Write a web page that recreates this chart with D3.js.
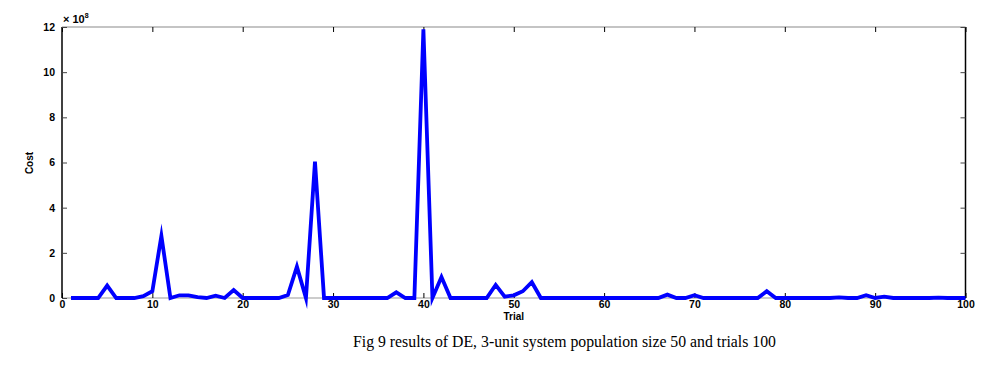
<!DOCTYPE html>
<html><head><meta charset="utf-8">
<script src="https://cdn.jsdelivr.net/npm/d3@7"></script>
<style>body{margin:0;background:#fff;} svg{display:block;}</style>
</head><body>
<svg id="c" width="994" height="367"></svg>
<script>
const trials = d3.range(1, 101);
const cost = [
 0,0,0,0,0.55,0,0,0,0.08,0.3,
 2.75,0,0.12,0.12,0.04,0,0.1,0,0.35,0,
 0,0,0,0,0.13,1.39,0,6.04,0,0,
 0,0,0,0,0,0,0.25,0,0,11.9,
 0,0.93,0,0,0,0,0,0.58,0.06,0.12,
 0.3,0.7,0,0,0,0,0,0,0,0,
 0,0,0,0,0,0,0.15,0,0,0.12,
 0,0,0,0,0,0,0,0.3,0,0,
 0,0,0,0,0,0.03,0,0,0.12,0,
 0.06,0,0,0,0,0,0.02,0,0,0
];
const xTicks = [0,10,20,30,40,50,60,70,80,90,100];
const yTicks = [0,2,4,6,8,10,12];
const title = "Fig 9 results of DE, 3-unit system population size 50 and trials 100";

const svg = d3.select("#c");
const L = 62, R = 965.5, T = 27, B = 298;
const x = d3.scaleLinear().domain([0,100]).range([L,R]);
const y = d3.scaleLinear().domain([0,12]).range([B,T]);
const tickFont = "bold 10.5px 'Liberation Sans', Arial, sans-serif";

// box
svg.append("line").attr("x1",L).attr("x2",R).attr("y1",T).attr("y2",T).attr("stroke","#8a8a8a").attr("stroke-width",1.2);
svg.append("line").attr("x1",L).attr("x2",R).attr("y1",B).attr("y2",B).attr("stroke","#9a9a9a").attr("stroke-width",1.2);
svg.append("line").attr("x1",L).attr("x2",L).attr("y1",T).attr("y2",B).attr("stroke","#000").attr("stroke-width",1.5);
svg.append("line").attr("x1",R).attr("x2",R).attr("y1",T).attr("y2",B).attr("stroke","#000").attr("stroke-width",1.5);

// bottom axis
const gx = svg.append("g").attr("transform",`translate(0,${B})`)
  .call(d3.axisBottom(x).tickValues(xTicks).tickSizeInner(-5).tickSizeOuter(0).tickPadding(3));
gx.select(".domain").remove();
gx.selectAll("text").style("font", tickFont).attr("fill","#000").attr("dy","0.71em");
// top ticks
const gxt = svg.append("g").attr("transform",`translate(0,${T})`)
  .call(d3.axisTop(x).tickValues(xTicks).tickSizeInner(-5).tickSizeOuter(0).tickFormat(""));
gxt.select(".domain").remove();
// left axis
const gy = svg.append("g").attr("transform",`translate(${L},0)`)
  .call(d3.axisLeft(y).tickValues(yTicks).tickSizeInner(-5).tickSizeOuter(0).tickPadding(7));
gy.select(".domain").remove();
gy.selectAll("text").style("font", tickFont).attr("fill","#000");
gy.selectAll("line").attr("stroke","#444");
// right ticks
const gyr = svg.append("g").attr("transform",`translate(${R},0)`)
  .call(d3.axisRight(y).tickValues(yTicks).tickSizeInner(-5).tickSizeOuter(0).tickFormat(""));
gyr.select(".domain").remove();
gyr.selectAll("line").attr("stroke","#444");

// exponent
const ex = svg.append("text").attr("x", L+1).attr("y", T-4).style("font","bold 11px 'Liberation Sans', Arial, sans-serif");
ex.append("tspan").text("× 10");
ex.append("tspan").attr("dy",-5).style("font-size","7px").text("8");

// line
const line = d3.line().x((d,i)=>x(trials[i])).y(d=>y(d));
svg.append("path").datum(cost).attr("d", line).attr("fill","none")
  .attr("stroke","#0000ff").attr("stroke-width",3.8).attr("stroke-linejoin","miter").attr("stroke-miterlimit",10);

// labels
svg.append("text").attr("x", (L+R)/2).attr("y", 320).attr("text-anchor","middle")
  .style("font","bold 10px 'Liberation Sans', Arial, sans-serif").text("Trial");
svg.append("text").attr("transform","translate(33,163) rotate(-90)").attr("text-anchor","middle")
  .style("font","bold 10px 'Liberation Sans', Arial, sans-serif").text("Cost");

svg.append("text").attr("x", 564.5).attr("y", 347).attr("text-anchor","middle")
  .attr("textLength", 423).attr("lengthAdjust","spacingAndGlyphs")
  .style("font","17.5px 'Liberation Serif', 'Times New Roman', serif").attr("fill","#000").text(title);
</script>
</body></html>
